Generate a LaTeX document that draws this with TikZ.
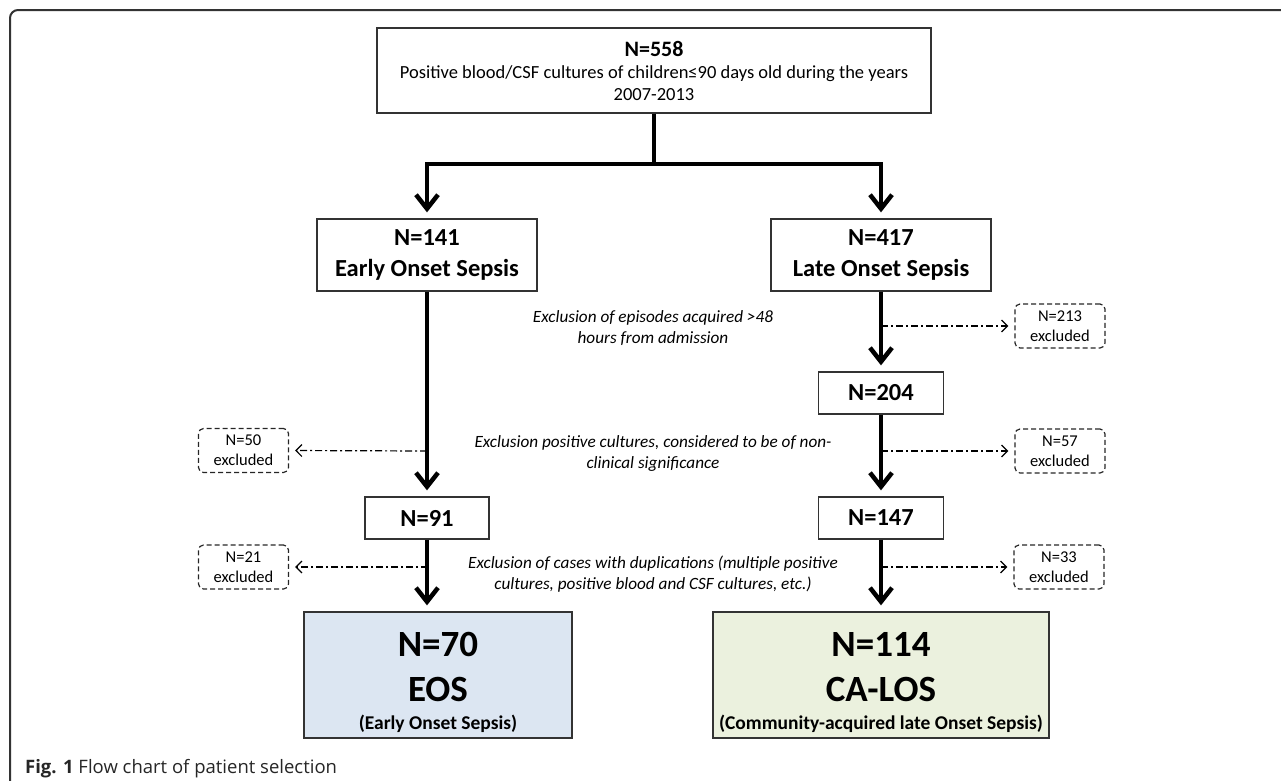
\documentclass[tikz,border=0pt]{standalone}
\usepackage{fontspec}
\setmainfont{Carlito}
\newfontfamily\capfont{Open Sans}
\usetikzlibrary{arrows.meta}
\definecolor{eosfill}{HTML}{DCE6F2}
\definecolor{losfill}{HTML}{EBF1DE}
\begin{document}
\begin{tikzpicture}[x=1pt,y=-1pt,
  box/.style={draw=black!80,line width=1.3pt,inner sep=0pt,align=center,font=\bfseries\fontsize{24.5}{31}\selectfont},
  xbox/.style={draw=black!85,dash pattern=on 5pt off 3pt,line width=1.2pt,rounded corners=5pt,minimum width=90pt,minimum height=44pt,inner sep=0pt,align=center,font=\fontsize{16.5}{20}\selectfont},
  mainarrow/.style={line width=4.5pt,-{Straight Barb[length=14pt,width=22pt]},shorten >=6pt},
  excl/.style={line width=1.2pt,dash pattern=on 7pt off 3pt on 2pt off 3pt,-{Straight Barb[length=6pt,width=12pt]},shorten >=6pt},
  note/.style={align=center,font=\itshape\fontsize{17.2}{21}\selectfont},
  framestyle/.style={draw=black!80,line width=2pt,rounded corners=8pt}]
\useasboundingbox (0,0) rectangle (1281,780);
% outer frame
\draw[framestyle] (10,785) -- (10,10) -- (1290,10);
% top box
\node[box,minimum width=554pt,minimum height=85pt,font=\fontsize{18.5}{22}\selectfont] (top) at (654,70.5)
  {{\bfseries\fontsize{22}{26}\selectfont N=558}\\Positive blood/CSF cultures of children≤90 days old during the years\\2007-2013};
% second level
\node[box,minimum width=220pt,minimum height=72pt] (n141) at (427,255) {N=141\\Early Onset Sepsis};
\node[box,minimum width=220pt,minimum height=72pt] (n417) at (881,255) {N=417\\Late Onset Sepsis};
\node[box,minimum width=125pt,minimum height=42pt] (n204) at (881,393) {N=204};
\node[box,minimum width=124pt,minimum height=42pt] (n91) at (427,518) {N=91};
\node[box,minimum width=125pt,minimum height=42pt] (n147) at (881,518) {N=147};
% final boxes
\node[box,fill=eosfill,minimum width=268pt,minimum height=126pt] (eos) at (438,675) {};
\node[box,fill=losfill,minimum width=336pt,minimum height=126pt] (calos) at (881,675) {};
\node[font=\bfseries\fontsize{37}{40}\selectfont] (eosN) at (438,644) {N=70};
\node[font=\bfseries\fontsize{37}{40}\selectfont] (eosT) at (438,689) {EOS};
\node[font=\bfseries\fontsize{19.5}{22}\selectfont] (eosS) at (438,724) {(Early Onset Sepsis)};
\node[font=\bfseries\fontsize{37}{40}\selectfont] (losN) at (881,644) {N=114};
\node[font=\bfseries\fontsize{37}{40}\selectfont] (losT) at (881,689) {CA-LOS};
\node[font=\bfseries\fontsize{19.5}{22}\selectfont] (losS) at (881,724) {(Community-acquired late Onset Sepsis)};
% excluded boxes
\node[xbox] (x50) at (243.5,450.5) {N=50\\excluded};
\node[xbox] (x21) at (243.5,567) {N=21\\excluded};
\node[xbox] (x213) at (1060,326) {N=213\\excluded};
\node[xbox] (x57) at (1060,451) {N=57\\excluded};
\node[xbox] (x33) at (1059,567) {N=33\\excluded};
% notes
\node[note] (note1) at (653,328) {Exclusion of episodes acquired >48\\hours from admission};
\node[note] (note2) at (653,453) {Exclusion positive cultures, considered to be of non-\\clinical significance};
\node[note] (note3) at (653,574) {Exclusion of cases with duplications (multiple positive\\cultures, positive blood and CSF cultures, etc.)};
% main connectors
\coordinate (jL) at (427,164);
\coordinate (jR) at (881,164);
\draw[mainarrow] (top.south) |- (jL) -- (n141.north);
\draw[mainarrow] (top.south) |- (jR) -- (n417.north);
\draw[mainarrow] (n141.south) -- (n141.south |- n91.north);
\draw[mainarrow] (n91.south) -- (n91.south |- eos.north);
\draw[mainarrow] (n417.south) -- (n204.north);
\draw[mainarrow] (n204.south) -- (n147.north);
\draw[mainarrow] (n147.south) -- (calos.north);
% exclusion connectors
\coordinate (b50) at (427,451);
\coordinate (b21) at (428,567);
\coordinate (b213) at (881,326);
\coordinate (b57) at (881,451);
\coordinate (b33) at (881,567);
\draw[excl] (b50) -- (x50.east);
\draw[excl] (b21) -- (x21.east);
\draw[excl] (b213) -- (x213.west);
\draw[excl] (b57) -- (x57.west);
\draw[excl] (b33) -- (x33.west);
% caption
\node[anchor=base west,font=\capfont\fontsize{18.5}{20}\selectfont,text=black!85,inner sep=0pt] (cap) at (25,773) {\textbf{Fig. 1} Flow chart of patient selection};
\end{tikzpicture}
\end{document}
